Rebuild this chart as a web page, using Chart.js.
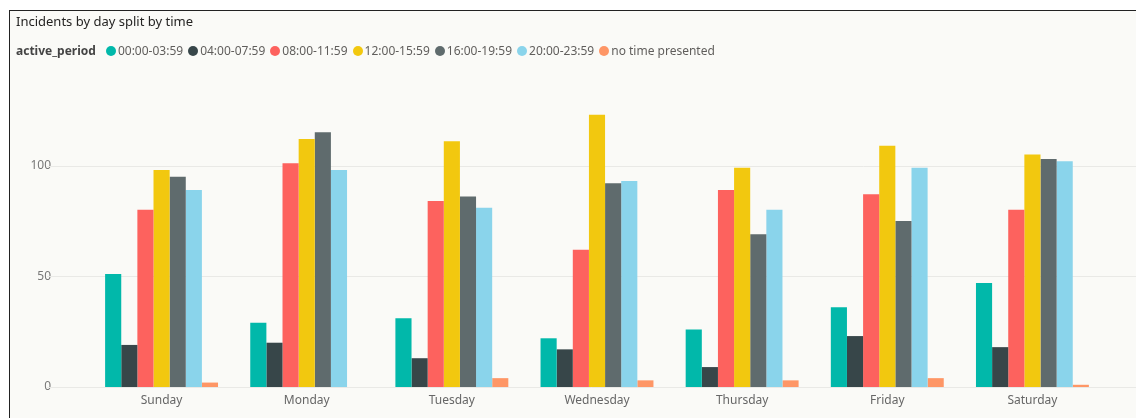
<!DOCTYPE html>
<html>
<head>
<meta charset="utf-8">
<script src="https://cdn.jsdelivr.net/npm/chart.js@4"></script>
<style>
	html, body { margin: 0; padding: 0; background: #fff; }
	body { width: 1136px; height: 418px; position: relative; overflow: hidden; font-family: "Noto Sans", "Open Sans", sans-serif; }
	.frame { position: absolute; left: 9px; top: 10px; width: 1140px; height: 420px; border: 1px solid #222; background: #fafaf7; }
	#chart_wrap { position: absolute; left: 0; top: 0; width: 1136px; height: 418px; }
	.chart_title { position: absolute; left: 16px; top: 12px; font-size: 13px; color: #252423; }
	.legend { position: absolute; left: 16px; top: 42px; display: flex; align-items: center; font-size: 12px; color: #605e5c; }
	.legend .legend_name { font-weight: bold; color: #444; margin-right: 10px; }
	.legend .item { display: flex; align-items: center; margin-right: 5px; }
	.legend .dot { width: 10px; height: 10px; border-radius: 50%; margin-right: 2px; }
</style>
</head>
<body>
<div class="frame"></div>
<div id="chart_wrap"><canvas id="incidents_chart"></canvas></div>
<div class="chart_title">Incidents by day split by time</div>
<div class="legend" id="legend"><span class="legend_name">active_period</span></div>
<script>
"use strict";

const daysArr = ["Sunday", "Monday", "Tuesday", "Wednesday", "Thursday", "Friday", "Saturday"];
const periodNames = ["00:00-03:59", "04:00-07:59", "08:00-11:59", "12:00-15:59", "16:00-19:59", "20:00-23:59", "no time presented"];
const periodColors = ["#01B8AA", "#374649", "#FD625E", "#F2C80F", "#5F6B6D", "#8AD4EB", "#FE9666"];

const p0000 = [51, 29, 31, 22, 26, 36, 47];
const p0400 = [19, 20, 13, 17, 9, 23, 18];
const p0800 = [80, 101, 84, 62, 89, 87, 80];
const p1200 = [98, 112, 111, 123, 99, 109, 105];
const p1600 = [95, 115, 86, 92, 69, 75, 103];
const p2000 = [89, 98, 81, 93, 80, 99, 102];
const pNoTime = [2, 0, 4, 3, 3, 4, 1];
const yTicks = [0, 50, 100];

const seriesArr = [p0000, p0400, p0800, p1200, p1600, p2000, pNoTime];

// legend in html, same order as datasets
const legendEl = document.getElementById("legend");
periodNames.forEach((name, i) => {
	const item = document.createElement("span");
	item.className = "item";
	item.innerHTML = `<span class="dot" style="background:${periodColors[i]}"></span>${name}`;
	legendEl.appendChild(item);
});

// gridlines run wider than the bar area, like power bi
const wideGrid = {
	id: "wideGrid",
	beforeDatasetsDraw(chart) {
		const ctx = chart.ctx;
		const y = chart.scales.y;
		ctx.save();
		ctx.strokeStyle = "#e9e9e6";
		ctx.lineWidth = 1;
		yTicks.forEach((t) => {
			const py = Math.round(y.getPixelForValue(t)) + 0.5;
			ctx.beginPath();
			ctx.moveTo(47, py);
			ctx.lineTo(1136, py);
			ctx.stroke();
		});
		ctx.restore();
	},
};

new Chart(document.getElementById("incidents_chart"), {
	type: "bar",
	data: {
		labels: daysArr,
		datasets: seriesArr.map((data, i) => ({
			label: periodNames[i],
			data: data,
			backgroundColor: periodColors[i],
			borderWidth: 0,
			barPercentage: 1,
			categoryPercentage: 0.778,
		})),
	},
	options: {
		responsive: true,
		maintainAspectRatio: false,
		animation: false,
		layout: { padding: { top: 77, right: 31, left: 0, bottom: 0 } },
		plugins: {
			legend: { display: false },
			title: { display: false },
			tooltip: { enabled: false },
		},
		scales: {
			x: {
				grid: { display: false, drawTicks: false },
				border: { display: false },
				ticks: {
					color: "#666",
					padding: 6,
					font: { family: "Noto Sans", size: 12 },
				},
				afterFit(scale) { scale.height = 31; },
			},
			y: {
				min: 0,
				max: 140,
				grid: { display: false },
				border: { display: false },
				ticks: {
					stepSize: 50,
					color: "#777",
					padding: 30,
					font: { family: "Noto Sans", size: 12 },
				},
				afterBuildTicks(scale) {
					scale.ticks = yTicks.map((v) => ({ value: v }));
				},
				afterFit(scale) {
					scale.width = 89;
					scale.paddingTop = 0;
					scale.paddingBottom = 0;
				},
			},
		},
	},
	plugins: [wideGrid],
});
</script>
</body>
</html>
